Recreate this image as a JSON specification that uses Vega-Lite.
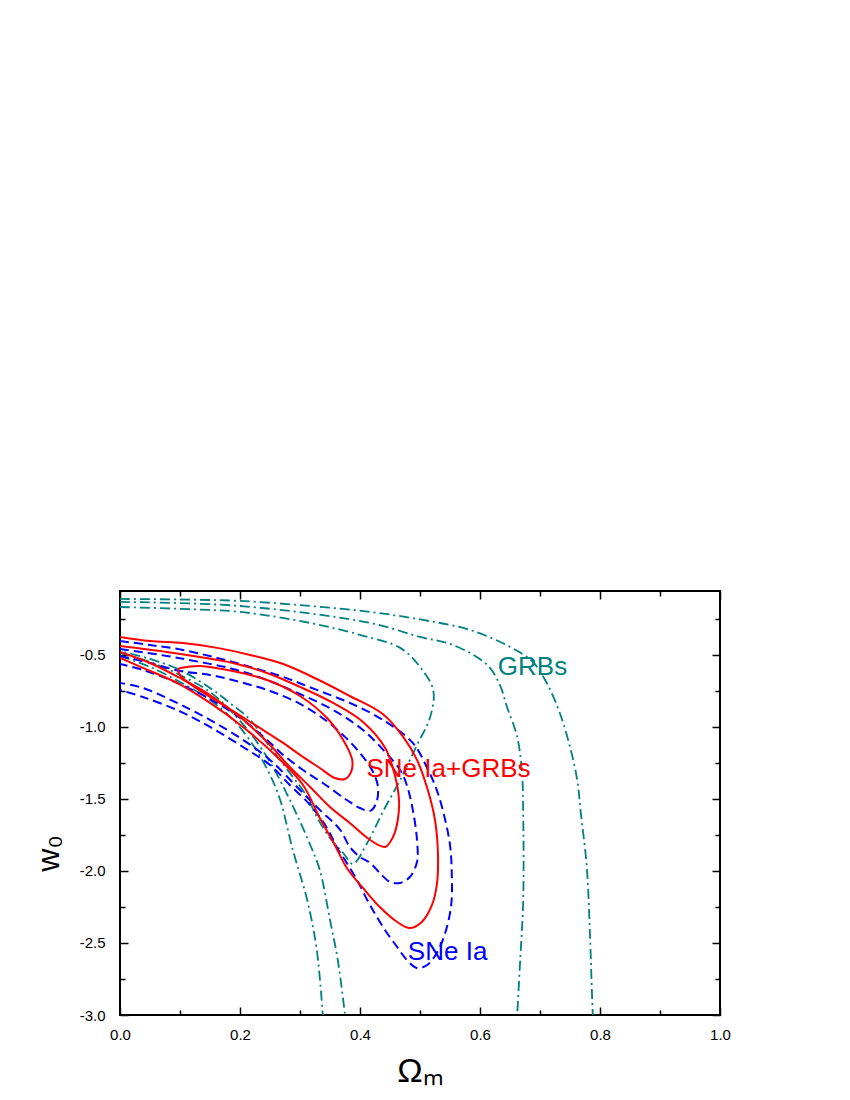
{
  "$schema": "https://vega.github.io/schema/vega-lite/v6.json",
  "width": 600,
  "height": 424,
  "autosize": "none",
  "padding": {"left": 120, "top": 591, "right": 130, "bottom": 85},
  "background": "white",
  "config": {
    "font": "Liberation Sans",
    "view": {"stroke": "black", "strokeWidth": 2},
    "axis": {"grid": false, "domain": false, "tickColor": "black", "tickWidth": 1.5, "labelColor": "black", "titleColor": "black", "labelFont": "Liberation Sans", "labelFontSize": 15, "titleFont": "Liberation Sans", "labelFlush": false, "labelOverlap": false}
  },
  "datasets": {
    "curves": [
      {"s":"GRB","c":"G1","i":0,"x":0,"y":-0.167},{"s":"GRB","c":"G1","i":1,"x":0.1,"y":-0.18},{"s":"GRB","c":"G1","i":2,"x":0.2,"y":-0.201},{"s":"GRB","c":"G1","i":3,"x":0.317,"y":-0.278},{"s":"GRB","c":"G1","i":4,"x":0.4,"y":-0.361},{"s":"GRB","c":"G1","i":5,"x":0.467,"y":-0.451},{"s":"GRB","c":"G1","i":6,"x":0.5,"y":-0.583},{"s":"GRB","c":"G1","i":7,"x":0.522,"y":-0.743},{"s":"GRB","c":"G1","i":8,"x":0.517,"y":-0.931},{"s":"GRB","c":"G1","i":9,"x":0.495,"y":-1.125},{"s":"GRB","c":"G1","i":10,"x":0.467,"y":-1.368},{"s":"GRB","c":"G1","i":11,"x":0.438,"y":-1.59},{"s":"GRB","c":"G1","i":12,"x":0.412,"y":-1.806},{"s":"GRB","c":"G1","i":13,"x":0.388,"y":-1.951},{"s":"GRB","c":"G1","i":14,"x":0.372,"y":-1.875},{"s":"GRB","c":"G1","i":15,"x":0.35,"y":-1.771},{"s":"GRB","c":"G1","i":16,"x":0.328,"y":-1.625},{"s":"GRB","c":"G1","i":17,"x":0.312,"y":-1.486},{"s":"GRB","c":"G1","i":18,"x":0.283,"y":-1.319},{"s":"GRB","c":"G1","i":19,"x":0.25,"y":-1.139},{"s":"GRB","c":"G1","i":20,"x":0.217,"y":-0.951},{"s":"GRB","c":"G1","i":21,"x":0.183,"y":-0.833},{"s":"GRB","c":"G1","i":22,"x":0.15,"y":-0.729},{"s":"GRB","c":"G1","i":23,"x":0.1,"y":-0.604},{"s":"GRB","c":"G1","i":24,"x":0.05,"y":-0.528},{"s":"GRB","c":"G1","i":25,"x":0,"y":-0.472},
      {"s":"GRB","c":"G2a","i":0,"x":0,"y":-0.132},{"s":"GRB","c":"G2a","i":1,"x":0.2,"y":-0.16},{"s":"GRB","c":"G2a","i":2,"x":0.417,"y":-0.278},{"s":"GRB","c":"G2a","i":3,"x":0.5,"y":-0.375},{"s":"GRB","c":"G2a","i":4,"x":0.555,"y":-0.431},{"s":"GRB","c":"G2a","i":5,"x":0.612,"y":-0.569},{"s":"GRB","c":"G2a","i":6,"x":0.633,"y":-0.708},{"s":"GRB","c":"G2a","i":7,"x":0.645,"y":-0.861},{"s":"GRB","c":"G2a","i":8,"x":0.662,"y":-1.069},{"s":"GRB","c":"G2a","i":9,"x":0.67,"y":-1.319},{"s":"GRB","c":"G2a","i":10,"x":0.672,"y":-1.597},{"s":"GRB","c":"G2a","i":11,"x":0.672,"y":-2.201},{"s":"GRB","c":"G2a","i":12,"x":0.667,"y":-2.618},{"s":"GRB","c":"G2a","i":13,"x":0.662,"y":-3.0},
      {"s":"GRB","c":"G2b","i":0,"x":0,"y":-0.486},{"s":"GRB","c":"G2b","i":1,"x":0.05,"y":-0.549},{"s":"GRB","c":"G2b","i":2,"x":0.1,"y":-0.639},{"s":"GRB","c":"G2b","i":3,"x":0.15,"y":-0.757},{"s":"GRB","c":"G2b","i":4,"x":0.183,"y":-0.882},{"s":"GRB","c":"G2b","i":5,"x":0.217,"y":-1.042},{"s":"GRB","c":"G2b","i":6,"x":0.25,"y":-1.243},{"s":"GRB","c":"G2b","i":7,"x":0.275,"y":-1.438},{"s":"GRB","c":"G2b","i":8,"x":0.295,"y":-1.611},{"s":"GRB","c":"G2b","i":9,"x":0.317,"y":-1.819},{"s":"GRB","c":"G2b","i":10,"x":0.333,"y":-1.993},{"s":"GRB","c":"G2b","i":11,"x":0.35,"y":-2.34},{"s":"GRB","c":"G2b","i":12,"x":0.363,"y":-2.618},{"s":"GRB","c":"G2b","i":13,"x":0.375,"y":-3.0},
      {"s":"GRB","c":"G3a","i":0,"x":0,"y":-0.111},{"s":"GRB","c":"G3a","i":1,"x":0.1,"y":-0.115},{"s":"GRB","c":"G3a","i":2,"x":0.2,"y":-0.125},{"s":"GRB","c":"G3a","i":3,"x":0.317,"y":-0.16},{"s":"GRB","c":"G3a","i":4,"x":0.417,"y":-0.201},{"s":"GRB","c":"G3a","i":5,"x":0.505,"y":-0.257},{"s":"GRB","c":"G3a","i":6,"x":0.583,"y":-0.326},{"s":"GRB","c":"G3a","i":7,"x":0.65,"y":-0.444},{"s":"GRB","c":"G3a","i":8,"x":0.688,"y":-0.549},{"s":"GRB","c":"G3a","i":9,"x":0.712,"y":-0.701},{"s":"GRB","c":"G3a","i":10,"x":0.733,"y":-0.903},{"s":"GRB","c":"G3a","i":11,"x":0.75,"y":-1.139},{"s":"GRB","c":"G3a","i":12,"x":0.762,"y":-1.368},{"s":"GRB","c":"G3a","i":13,"x":0.768,"y":-1.597},{"s":"GRB","c":"G3a","i":14,"x":0.778,"y":-1.972},{"s":"GRB","c":"G3a","i":15,"x":0.783,"y":-2.41},{"s":"GRB","c":"G3a","i":16,"x":0.787,"y":-2.896},{"s":"GRB","c":"G3a","i":17,"x":0.788,"y":-3.0},
      {"s":"GRB","c":"G3b","i":0,"x":0,"y":-0.507},{"s":"GRB","c":"G3b","i":1,"x":0.05,"y":-0.583},{"s":"GRB","c":"G3b","i":2,"x":0.1,"y":-0.688},{"s":"GRB","c":"G3b","i":3,"x":0.15,"y":-0.813},{"s":"GRB","c":"G3b","i":4,"x":0.192,"y":-0.965},{"s":"GRB","c":"G3b","i":5,"x":0.225,"y":-1.146},{"s":"GRB","c":"G3b","i":6,"x":0.25,"y":-1.333},{"s":"GRB","c":"G3b","i":7,"x":0.267,"y":-1.507},{"s":"GRB","c":"G3b","i":8,"x":0.288,"y":-1.854},{"s":"GRB","c":"G3b","i":9,"x":0.312,"y":-2.201},{"s":"GRB","c":"G3b","i":10,"x":0.328,"y":-2.549},{"s":"GRB","c":"G3b","i":11,"x":0.338,"y":-3.0},
      {"s":"SN","c":"B1","i":0,"x":0,"y":-0.507},{"s":"SN","c":"B1","i":1,"x":0.05,"y":-0.556},{"s":"SN","c":"B1","i":2,"x":0.1,"y":-0.611},{"s":"SN","c":"B1","i":3,"x":0.15,"y":-0.639},{"s":"SN","c":"B1","i":4,"x":0.2,"y":-0.688},{"s":"SN","c":"B1","i":5,"x":0.25,"y":-0.75},{"s":"SN","c":"B1","i":6,"x":0.3,"y":-0.84},{"s":"SN","c":"B1","i":7,"x":0.342,"y":-0.951},{"s":"SN","c":"B1","i":8,"x":0.375,"y":-1.069},{"s":"SN","c":"B1","i":9,"x":0.4,"y":-1.181},{"s":"SN","c":"B1","i":10,"x":0.42,"y":-1.299},{"s":"SN","c":"B1","i":11,"x":0.43,"y":-1.417},{"s":"SN","c":"B1","i":12,"x":0.427,"y":-1.528},{"s":"SN","c":"B1","i":13,"x":0.417,"y":-1.583},{"s":"SN","c":"B1","i":14,"x":0.4,"y":-1.563},{"s":"SN","c":"B1","i":15,"x":0.378,"y":-1.507},{"s":"SN","c":"B1","i":16,"x":0.338,"y":-1.389},{"s":"SN","c":"B1","i":17,"x":0.305,"y":-1.299},{"s":"SN","c":"B1","i":18,"x":0.272,"y":-1.194},{"s":"SN","c":"B1","i":19,"x":0.245,"y":-1.09},{"s":"SN","c":"B1","i":20,"x":0.205,"y":-0.951},{"s":"SN","c":"B1","i":21,"x":0.15,"y":-0.806},{"s":"SN","c":"B1","i":22,"x":0.095,"y":-0.694},{"s":"SN","c":"B1","i":23,"x":0.038,"y":-0.604},{"s":"SN","c":"B1","i":24,"x":0,"y":-0.563},
      {"s":"SN","c":"B2","i":0,"x":0,"y":-0.458},{"s":"SN","c":"B2","i":1,"x":0.078,"y":-0.507},{"s":"SN","c":"B2","i":2,"x":0.133,"y":-0.549},{"s":"SN","c":"B2","i":3,"x":0.188,"y":-0.597},{"s":"SN","c":"B2","i":4,"x":0.245,"y":-0.674},{"s":"SN","c":"B2","i":5,"x":0.3,"y":-0.771},{"s":"SN","c":"B2","i":6,"x":0.355,"y":-0.882},{"s":"SN","c":"B2","i":7,"x":0.405,"y":-1.021},{"s":"SN","c":"B2","i":8,"x":0.442,"y":-1.174},{"s":"SN","c":"B2","i":9,"x":0.467,"y":-1.299},{"s":"SN","c":"B2","i":10,"x":0.478,"y":-1.403},{"s":"SN","c":"B2","i":11,"x":0.488,"y":-1.576},{"s":"SN","c":"B2","i":12,"x":0.495,"y":-1.785},{"s":"SN","c":"B2","i":13,"x":0.495,"y":-1.938},{"s":"SN","c":"B2","i":14,"x":0.483,"y":-2.042},{"s":"SN","c":"B2","i":15,"x":0.467,"y":-2.083},{"s":"SN","c":"B2","i":16,"x":0.45,"y":-2.076},{"s":"SN","c":"B2","i":17,"x":0.433,"y":-2.014},{"s":"SN","c":"B2","i":18,"x":0.417,"y":-1.944},{"s":"SN","c":"B2","i":19,"x":0.4,"y":-1.903},{"s":"SN","c":"B2","i":20,"x":0.383,"y":-1.833},{"s":"SN","c":"B2","i":21,"x":0.367,"y":-1.715},{"s":"SN","c":"B2","i":22,"x":0.333,"y":-1.576},{"s":"SN","c":"B2","i":23,"x":0.3,"y":-1.438},{"s":"SN","c":"B2","i":24,"x":0.25,"y":-1.229},{"s":"SN","c":"B2","i":25,"x":0.205,"y":-1.09},{"s":"SN","c":"B2","i":26,"x":0.15,"y":-0.951},{"s":"SN","c":"B2","i":27,"x":0.095,"y":-0.833},{"s":"SN","c":"B2","i":28,"x":0.038,"y":-0.729},{"s":"SN","c":"B2","i":29,"x":0,"y":-0.694},
      {"s":"SN","c":"B3","i":0,"x":0,"y":-0.403},{"s":"SN","c":"B3","i":1,"x":0.05,"y":-0.431},{"s":"SN","c":"B3","i":2,"x":0.105,"y":-0.465},{"s":"SN","c":"B3","i":3,"x":0.162,"y":-0.521},{"s":"SN","c":"B3","i":4,"x":0.217,"y":-0.583},{"s":"SN","c":"B3","i":5,"x":0.272,"y":-0.653},{"s":"SN","c":"B3","i":6,"x":0.328,"y":-0.743},{"s":"SN","c":"B3","i":7,"x":0.383,"y":-0.833},{"s":"SN","c":"B3","i":8,"x":0.438,"y":-0.951},{"s":"SN","c":"B3","i":9,"x":0.488,"y":-1.111},{"s":"SN","c":"B3","i":10,"x":0.512,"y":-1.285},{"s":"SN","c":"B3","i":11,"x":0.528,"y":-1.438},{"s":"SN","c":"B3","i":12,"x":0.54,"y":-1.611},{"s":"SN","c":"B3","i":13,"x":0.55,"y":-1.819},{"s":"SN","c":"B3","i":14,"x":0.553,"y":-2.028},{"s":"SN","c":"B3","i":15,"x":0.552,"y":-2.236},{"s":"SN","c":"B3","i":16,"x":0.542,"y":-2.431},{"s":"SN","c":"B3","i":17,"x":0.528,"y":-2.569},{"s":"SN","c":"B3","i":18,"x":0.512,"y":-2.653},{"s":"SN","c":"B3","i":19,"x":0.495,"y":-2.674},{"s":"SN","c":"B3","i":20,"x":0.478,"y":-2.618},{"s":"SN","c":"B3","i":21,"x":0.462,"y":-2.528},{"s":"SN","c":"B3","i":22,"x":0.445,"y":-2.431},{"s":"SN","c":"B3","i":23,"x":0.428,"y":-2.319},{"s":"SN","c":"B3","i":24,"x":0.412,"y":-2.201},{"s":"SN","c":"B3","i":25,"x":0.395,"y":-2.063},{"s":"SN","c":"B3","i":26,"x":0.378,"y":-1.944},{"s":"SN","c":"B3","i":27,"x":0.362,"y":-1.84},{"s":"SN","c":"B3","i":28,"x":0.345,"y":-1.701},{"s":"SN","c":"B3","i":29,"x":0.317,"y":-1.542},{"s":"SN","c":"B3","i":30,"x":0.283,"y":-1.403},{"s":"SN","c":"B3","i":31,"x":0.25,"y":-1.264},{"s":"SN","c":"B3","i":32,"x":0.205,"y":-1.139},{"s":"SN","c":"B3","i":33,"x":0.15,"y":-1.0},{"s":"SN","c":"B3","i":34,"x":0.095,"y":-0.882},{"s":"SN","c":"B3","i":35,"x":0.038,"y":-0.792},{"s":"SN","c":"B3","i":36,"x":0,"y":-0.743},
      {"s":"RC","c":"R1","i":0,"x":0.1,"y":-0.59},{"s":"RC","c":"R1","i":1,"x":0.133,"y":-0.576},{"s":"RC","c":"R1","i":2,"x":0.188,"y":-0.611},{"s":"RC","c":"R1","i":3,"x":0.245,"y":-0.674},{"s":"RC","c":"R1","i":4,"x":0.3,"y":-0.785},{"s":"RC","c":"R1","i":5,"x":0.345,"y":-0.938},{"s":"RC","c":"R1","i":6,"x":0.372,"y":-1.09},{"s":"RC","c":"R1","i":7,"x":0.387,"y":-1.229},{"s":"RC","c":"R1","i":8,"x":0.385,"y":-1.313},{"s":"RC","c":"R1","i":9,"x":0.375,"y":-1.361},{"s":"RC","c":"R1","i":10,"x":0.358,"y":-1.354},{"s":"RC","c":"R1","i":11,"x":0.333,"y":-1.285},{"s":"RC","c":"R1","i":12,"x":0.3,"y":-1.194},{"s":"RC","c":"R1","i":13,"x":0.272,"y":-1.111},{"s":"RC","c":"R1","i":14,"x":0.233,"y":-1.007},{"s":"RC","c":"R1","i":15,"x":0.188,"y":-0.889},{"s":"RC","c":"R1","i":16,"x":0.15,"y":-0.792},{"s":"RC","c":"R1","i":17,"x":0.117,"y":-0.701},{"s":"RC","c":"R1","i":18,"x":0.1,"y":-0.639},{"s":"RC","c":"R1","i":19,"x":0.097,"y":-0.604},{"s":"RC","c":"R1","i":20,"x":0.1,"y":-0.59},
      {"s":"RC","c":"R2","i":0,"x":0,"y":-0.438},{"s":"RC","c":"R2","i":1,"x":0.078,"y":-0.479},{"s":"RC","c":"R2","i":2,"x":0.133,"y":-0.514},{"s":"RC","c":"R2","i":3,"x":0.188,"y":-0.556},{"s":"RC","c":"R2","i":4,"x":0.245,"y":-0.625},{"s":"RC","c":"R2","i":5,"x":0.3,"y":-0.722},{"s":"RC","c":"R2","i":6,"x":0.355,"y":-0.833},{"s":"RC","c":"R2","i":7,"x":0.405,"y":-0.965},{"s":"RC","c":"R2","i":8,"x":0.442,"y":-1.146},{"s":"RC","c":"R2","i":9,"x":0.458,"y":-1.333},{"s":"RC","c":"R2","i":10,"x":0.465,"y":-1.507},{"s":"RC","c":"R2","i":11,"x":0.463,"y":-1.646},{"s":"RC","c":"R2","i":12,"x":0.455,"y":-1.764},{"s":"RC","c":"R2","i":13,"x":0.442,"y":-1.833},{"s":"RC","c":"R2","i":14,"x":0.417,"y":-1.785},{"s":"RC","c":"R2","i":15,"x":0.383,"y":-1.667},{"s":"RC","c":"R2","i":16,"x":0.35,"y":-1.556},{"s":"RC","c":"R2","i":17,"x":0.317,"y":-1.417},{"s":"RC","c":"R2","i":18,"x":0.283,"y":-1.278},{"s":"RC","c":"R2","i":19,"x":0.25,"y":-1.125},{"s":"RC","c":"R2","i":20,"x":0.2,"y":-0.931},{"s":"RC","c":"R2","i":21,"x":0.15,"y":-0.778},{"s":"RC","c":"R2","i":22,"x":0.1,"y":-0.66},{"s":"RC","c":"R2","i":23,"x":0.05,"y":-0.556},{"s":"RC","c":"R2","i":24,"x":0,"y":-0.479},
      {"s":"RC","c":"R3","i":0,"x":0,"y":-0.375},{"s":"RC","c":"R3","i":1,"x":0.05,"y":-0.403},{"s":"RC","c":"R3","i":2,"x":0.105,"y":-0.417},{"s":"RC","c":"R3","i":3,"x":0.162,"y":-0.451},{"s":"RC","c":"R3","i":4,"x":0.217,"y":-0.5},{"s":"RC","c":"R3","i":5,"x":0.272,"y":-0.563},{"s":"RC","c":"R3","i":6,"x":0.328,"y":-0.667},{"s":"RC","c":"R3","i":7,"x":0.383,"y":-0.785},{"s":"RC","c":"R3","i":8,"x":0.438,"y":-0.91},{"s":"RC","c":"R3","i":9,"x":0.472,"y":-1.069},{"s":"RC","c":"R3","i":10,"x":0.495,"y":-1.229},{"s":"RC","c":"R3","i":11,"x":0.513,"y":-1.438},{"s":"RC","c":"R3","i":12,"x":0.525,"y":-1.646},{"s":"RC","c":"R3","i":13,"x":0.53,"y":-1.889},{"s":"RC","c":"R3","i":14,"x":0.528,"y":-2.097},{"s":"RC","c":"R3","i":15,"x":0.52,"y":-2.236},{"s":"RC","c":"R3","i":16,"x":0.503,"y":-2.354},{"s":"RC","c":"R3","i":17,"x":0.483,"y":-2.396},{"s":"RC","c":"R3","i":18,"x":0.462,"y":-2.354},{"s":"RC","c":"R3","i":19,"x":0.433,"y":-2.25},{"s":"RC","c":"R3","i":20,"x":0.405,"y":-2.118},{"s":"RC","c":"R3","i":21,"x":0.378,"y":-1.979},{"s":"RC","c":"R3","i":22,"x":0.358,"y":-1.819},{"s":"RC","c":"R3","i":23,"x":0.333,"y":-1.632},{"s":"RC","c":"R3","i":24,"x":0.305,"y":-1.403},{"s":"RC","c":"R3","i":25,"x":0.262,"y":-1.208},{"s":"RC","c":"R3","i":26,"x":0.205,"y":-1.0},{"s":"RC","c":"R3","i":27,"x":0.15,"y":-0.833},{"s":"RC","c":"R3","i":28,"x":0.095,"y":-0.694},{"s":"RC","c":"R3","i":29,"x":0.038,"y":-0.59},{"s":"RC","c":"R3","i":30,"x":0,"y":-0.521}
    ],
    "labels": [
      {"t":"GRBs","x":0.6875,"y":-0.639},
      {"t":"SNe Ia+GRBs","x":0.5475,"y":-1.347},
      {"t":"SNe Ia","x":0.546,"y":-2.618}
    ]
  },
  "resolve": {"axis": {"x": "independent", "y": "independent"}},
  "layer": [
    {
      "data": {"name": "curves"},
      "transform": [{"filter": "datum.s === 'GRB'"}],
      "mark": {"type": "line", "color": "#008080", "strokeWidth": 1.8, "strokeDash": [10, 4, 2, 4], "interpolate": "catmull-rom", "clip": true},
      "encoding": {
        "x": {"field": "x", "type": "quantitative", "scale": {"domain": [0, 1], "nice": false, "zero": false},
              "axis": {"orient": "bottom", "values": [0.1, 0.3, 0.5, 0.7, 0.9], "tickSize": -5, "labels": false, "title": null}},
        "y": {"field": "y", "type": "quantitative", "scale": {"domain": [-3, -0.056], "nice": false, "zero": false},
              "axis": {"orient": "left", "values": [-2.75, -2.25, -1.75, -1.25, -0.75, -0.25], "tickSize": -5, "labels": false, "title": null}},
        "detail": {"field": "c"},
        "order": {"field": "i", "type": "quantitative"}
      }
    },
    {
      "data": {"name": "curves"},
      "transform": [{"filter": "datum.s === 'SN'"}],
      "mark": {"type": "line", "color": "#0000FF", "strokeWidth": 2, "strokeDash": [9, 5], "interpolate": "catmull-rom", "clip": true},
      "encoding": {
        "x": {"field": "x", "type": "quantitative", "scale": {"domain": [0, 1], "nice": false, "zero": false},
              "axis": {"orient": "bottom", "values": [0, 0.2, 0.4, 0.6, 0.8, 1], "format": ".1f", "labelFontSize": 15, "tickSize": -8, "labelPadding": 20, "title": "Ωₘ", "titleFontSize": 34, "titleFontWeight": "normal", "titlePadding": 12}},
        "y": {"field": "y", "type": "quantitative", "scale": {"domain": [-3, -0.056], "nice": false, "zero": false},
              "axis": {"orient": "left", "values": [-3, -2.5, -2, -1.5, -1, -0.5], "labelExpr": "replace(format(datum.value, '.1f'), '\u2212', '-')", "labelFontSize": 15, "tickSize": -8, "labelPadding": 23, "title": "w₀", "titleFontSize": 32, "titleFontWeight": "normal", "titlePadding": 14, "titleY": 262}},
        "detail": {"field": "c"},
        "order": {"field": "i", "type": "quantitative"}
      }
    },
    {
      "data": {"name": "curves"},
      "transform": [{"filter": "datum.s === 'RC'"}],
      "mark": {"type": "line", "color": "#FF0000", "strokeWidth": 2, "interpolate": "catmull-rom", "clip": true},
      "encoding": {
        "x": {"field": "x", "type": "quantitative", "scale": {"domain": [0, 1], "nice": false, "zero": false},
              "axis": {"orient": "top", "values": [0, 0.2, 0.4, 0.6, 0.8, 1], "tickSize": -8, "labels": false, "title": null}},
        "y": {"field": "y", "type": "quantitative", "scale": {"domain": [-3, -0.056], "nice": false, "zero": false},
              "axis": {"orient": "right", "values": [-3, -2.5, -2, -1.5, -1, -0.5], "tickSize": -8, "labels": false, "title": null}},
        "detail": {"field": "c"},
        "order": {"field": "i", "type": "quantitative"}
      }
    },
    {
      "data": {"name": "labels"},
      "mark": {"type": "text", "fontSize": 26, "align": "center", "baseline": "alphabetic", "font": "Liberation Sans"},
      "encoding": {
        "x": {"field": "x", "type": "quantitative", "scale": {"domain": [0, 1], "nice": false, "zero": false},
              "axis": {"orient": "top", "values": [0.1, 0.3, 0.5, 0.7, 0.9], "tickSize": -5, "labels": false, "title": null}},
        "y": {"field": "y", "type": "quantitative", "scale": {"domain": [-3, -0.056], "nice": false, "zero": false},
              "axis": {"orient": "right", "values": [-2.75, -2.25, -1.75, -1.25, -0.75, -0.25], "tickSize": -5, "labels": false, "title": null}},
        "text": {"field": "t"},
        "color": {"field": "t", "type": "nominal", "scale": {"domain": ["GRBs", "SNe Ia+GRBs", "SNe Ia"], "range": ["#008080", "#FF0000", "#0000FF"]}, "legend": null}
      }
    }
  ]
}
